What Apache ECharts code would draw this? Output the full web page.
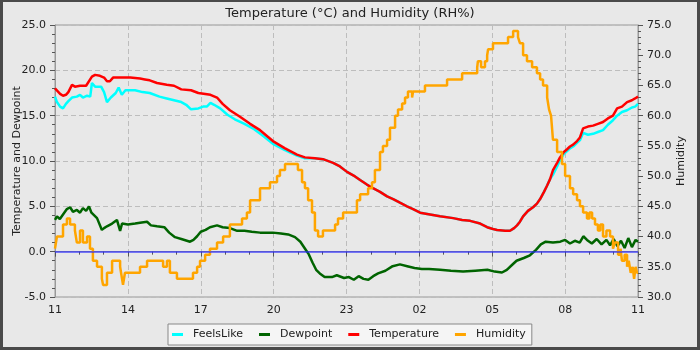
<!DOCTYPE html>
<html>
<head>
<meta charset="utf-8">
<script src="https://cdn.jsdelivr.net/npm/echarts@6/dist/echarts.min.js"></script>
<style>
  html, body { margin: 0; padding: 0; background: #4a4a4a; }
  #frame { width: 700px; height: 350px; box-sizing: border-box; border: 3px solid #4a4a4a; border-top-width: 2px; background: #e8e8e8; }
  #chart { width: 100%; height: 100%; }
</style>
</head>
<body>
<div id="frame"><div id="chart"></div></div>
<script>
// Readings over 24 hours starting at 11:00; time is in hours since 11:00.
const START_HOUR = 11;
const hourTicks = ['11', '14', '17', '20', '23', '02', '05', '08', '11'];

// [hours, °C]
const temperature = [
  [0, 18.0], [0.08, 17.8], [0.21, 17.4], [0.33, 17.2], [0.45, 17.3], [0.55, 17.6], [0.7, 18.4], [0.82, 18.2],
  [1.03, 18.3], [1.28, 18.3], [1.36, 18.5], [1.52, 19.3], [1.65, 19.5], [1.85, 19.4], [2.02, 19.2], [2.14, 18.8],
  [2.26, 18.8], [2.39, 19.2], [2.7, 19.2], [3.1, 19.2], [3.5, 19.1], [3.7, 19.0], [3.9, 18.9], [4.2, 18.6],
  [4.6, 18.4], [4.9, 18.3], [5.2, 17.9], [5.6, 17.8], [5.9, 17.5], [6.4, 17.3], [6.67, 17.0], [6.9, 16.3],
  [7.2, 15.6], [7.6, 14.9], [8.03, 14.1], [8.44, 13.4], [8.97, 12.2], [9.47, 11.4], [9.96, 10.7], [10.29, 10.4],
  [10.7, 10.3], [11.03, 10.2], [11.45, 9.8], [11.73, 9.4], [12.02, 8.8], [12.35, 8.3], [12.56, 7.9], [12.84, 7.4],
  [13.09, 7.0], [13.38, 6.6], [13.67, 6.1], [13.92, 5.8], [14.2, 5.4], [14.49, 5.0], [14.74, 4.7], [15.03, 4.3],
  [15.44, 4.1], [15.85, 3.9], [16.39, 3.7], [16.76, 3.5], [17.09, 3.4], [17.5, 3.1], [17.79, 2.7], [18.03, 2.5],
  [18.2, 2.4], [18.53, 2.3], [18.73, 2.3], [18.9, 2.6], [19.02, 2.9], [19.14, 3.3], [19.27, 3.9], [19.47, 4.5],
  [19.68, 4.9], [19.84, 5.3], [19.97, 5.8], [20.13, 6.6], [20.26, 7.3], [20.38, 8.0], [20.5, 9.0], [20.67, 9.8],
  [20.79, 10.4], [20.95, 11.0], [21.08, 11.3], [21.2, 11.6], [21.33, 11.8], [21.49, 12.2], [21.61, 12.6], [21.74, 13.6],
  [21.94, 13.8], [22.15, 13.9], [22.35, 14.1], [22.56, 14.3], [22.76, 14.7], [22.97, 15.0], [23.14, 15.8], [23.34, 16.0],
  [23.55, 16.5], [23.75, 16.7], [23.88, 16.9], [24, 17.1]
];

// [hours, °C]
const feelsLike = [
  [0, 17.1], [0.08, 16.5], [0.21, 16.0], [0.33, 15.8], [0.45, 16.3], [0.55, 16.6], [0.7, 17.0], [0.9, 17.1],
  [1.03, 17.3], [1.15, 17.0], [1.32, 17.2], [1.45, 17.1], [1.52, 18.6], [1.65, 18.2], [1.9, 18.2], [2.02, 17.6],
  [2.14, 16.5], [2.3, 17.0], [2.5, 17.5], [2.62, 18.1], [2.75, 17.3], [2.9, 17.8], [3.3, 17.8], [3.6, 17.6],
  [3.9, 17.5], [4.3, 17.1], [4.6, 16.9], [4.9, 16.7], [5.2, 16.5], [5.4, 16.2], [5.6, 15.7], [5.9, 15.8],
  [6.1, 16.0], [6.25, 16.0], [6.4, 16.4], [6.55, 16.2], [6.8, 15.8], [7.1, 15.1], [7.4, 14.6], [7.8, 14.1],
  [8.2, 13.5], [8.6, 12.7], [8.97, 11.9], [9.47, 11.2], [9.96, 10.6], [10.29, 10.3],
  [10.7, 10.3], [11.03, 10.2], [11.45, 9.8], [11.73, 9.4], [12.02, 8.8], [12.35, 8.3], [12.56, 7.9], [12.84, 7.4],
  [13.09, 7.0], [13.38, 6.6], [13.67, 6.1], [13.92, 5.8], [14.2, 5.4], [14.49, 5.0], [14.74, 4.7], [15.03, 4.3],
  [15.44, 4.1], [15.85, 3.9], [16.39, 3.7], [16.76, 3.5], [17.09, 3.4], [17.5, 3.1], [17.79, 2.7], [18.03, 2.5],
  [18.2, 2.4], [18.53, 2.3], [18.73, 2.3], [18.9, 2.6], [19.02, 2.9], [19.14, 3.3], [19.27, 3.9], [19.47, 4.5],
  [19.68, 4.9], [19.84, 5.3], [19.97, 5.8], [20.13, 6.6], [20.26, 7.3], [20.38, 8.0], [20.5, 8.5], [20.67, 9.4],
  [20.79, 10.1], [20.95, 10.8], [21.08, 11.1], [21.2, 11.4], [21.33, 11.6], [21.49, 12.0], [21.61, 12.3], [21.74, 13.1],
  [21.94, 12.9], [22.15, 13.0], [22.35, 13.2], [22.56, 13.4], [22.76, 14.0], [22.97, 14.5], [23.14, 15.0], [23.34, 15.4],
  [23.55, 15.6], [23.75, 15.9], [23.88, 16.0], [24, 16.3]
];

// [hours, °C]
const dewpoint = [
  [0, 3.5], [0.08, 3.9], [0.2, 3.6], [0.33, 4.1], [0.49, 4.7], [0.62, 4.9], [0.74, 4.4], [0.9, 4.6],
  [1.03, 4.3], [1.15, 4.8], [1.28, 4.5], [1.4, 5.0], [1.5, 4.3], [1.73, 3.7], [1.93, 2.4], [2.02, 2.6],
  [2.14, 2.8], [2.35, 3.1], [2.55, 3.5], [2.68, 2.3], [2.76, 3.1], [3.0, 3.0], [3.3, 3.1], [3.5, 3.2],
  [3.79, 3.3], [3.95, 2.9], [4.2, 2.8], [4.5, 2.7], [4.7, 2.1], [4.94, 1.6], [5.2, 1.4], [5.56, 1.1],
  [5.7, 1.3], [5.85, 1.7], [6.0, 2.2], [6.2, 2.4], [6.38, 2.7], [6.67, 2.9], [6.9, 2.7], [7.2, 2.6],
  [7.5, 2.3], [7.8, 2.3], [8.1, 2.2], [8.44, 2.1], [8.97, 2.1], [9.3, 2.0], [9.6, 1.9], [9.88, 1.6],
  [10.1, 1.1], [10.3, 0.3], [10.45, -0.3], [10.6, -1.2], [10.75, -2.0], [10.9, -2.4], [11.1, -2.8], [11.4, -2.8],
  [11.6, -2.6], [11.9, -2.9], [12.1, -2.8], [12.3, -3.1], [12.5, -2.7], [12.7, -3.0], [12.9, -3.1], [13.1, -2.7],
  [13.3, -2.4], [13.6, -2.1], [13.9, -1.6], [14.2, -1.4], [14.5, -1.6], [14.8, -1.8], [15.1, -1.9], [15.4, -1.9],
  [15.85, -2.0], [16.3, -2.1], [16.8, -2.2], [17.3, -2.1], [17.8, -2.0], [18.1, -2.2], [18.4, -2.3], [18.6, -2.0],
  [18.8, -1.5], [19.0, -1.0], [19.3, -0.7], [19.55, -0.4], [19.8, 0.2], [20.0, 0.8], [20.2, 1.1], [20.5, 1.0],
  [20.8, 1.1], [21.0, 1.3], [21.2, 0.9], [21.4, 1.2], [21.6, 1.0], [21.75, 1.7], [21.9, 1.3], [22.1, 0.9],
  [22.3, 1.4], [22.5, 0.8], [22.7, 1.3], [22.85, 0.7], [23.0, 1.4], [23.15, 0.6], [23.3, 1.2], [23.45, 0.4],
  [23.6, 1.5], [23.75, 0.5], [23.9, 1.3], [24, 1.1]
];

// [hours, %RH] — each reading holds until the next one
const humidity = [
  [0, 38], [0.08, 40], [0.33, 42], [0.49, 43], [0.62, 42], [0.82, 41], [0.9, 39], [1.03, 41],
  [1.15, 39], [1.32, 40], [1.44, 38], [1.56, 36], [1.73, 35], [1.93, 33], [1.98, 32], [2.14, 34],
  [2.35, 36], [2.68, 35], [2.76, 33], [2.8, 32], [2.88, 34], [3.5, 35], [3.79, 36], [4.45, 35],
  [4.61, 36], [4.73, 34], [5.02, 33], [5.68, 34], [5.85, 35], [5.97, 36], [6.18, 37], [6.38, 38],
  [6.67, 39], [6.92, 40], [7.2, 42], [7.7, 43], [7.9, 44], [8.03, 46], [8.44, 48], [8.85, 49],
  [9.14, 50], [9.26, 51], [9.47, 52], [10.0, 51], [10.17, 49], [10.29, 48], [10.42, 46], [10.58, 44],
  [10.7, 41], [10.83, 40], [11.03, 41], [11.53, 42], [11.65, 43], [11.86, 44], [12.43, 46], [12.56, 47],
  [12.89, 48], [13.05, 49], [13.17, 51], [13.38, 54], [13.5, 55], [13.67, 56], [13.79, 58], [14.0, 60],
  [14.12, 61], [14.29, 62], [14.41, 63], [14.53, 64], [14.7, 63], [14.74, 64], [15.23, 65], [16.14, 66],
  [16.76, 67], [17.38, 68], [17.41, 69], [17.54, 68], [17.7, 69], [17.79, 70], [17.83, 71], [18.03, 72],
  [18.65, 73], [18.86, 74], [19.06, 73], [19.14, 72], [19.27, 70], [19.43, 69], [19.64, 68], [19.84, 67],
  [19.97, 66], [20.09, 65], [20.26, 63], [20.34, 61], [20.42, 60], [20.5, 56], [20.67, 54], [20.87, 52],
  [21.0, 50], [21.2, 48], [21.33, 47], [21.49, 46], [21.61, 45], [21.74, 44], [21.9, 43], [22.0, 44],
  [22.11, 43], [22.23, 42], [22.35, 41], [22.45, 42], [22.56, 40], [22.7, 41], [22.85, 40], [22.97, 38],
  [23.05, 39], [23.18, 37], [23.28, 38], [23.34, 36], [23.45, 37], [23.55, 35], [23.62, 36], [23.7, 34],
  [23.78, 35], [23.84, 33], [23.9, 35], [23.96, 34], [24, 34]
];

const FONT = 'DejaVu Sans';
const TEXT = '#222';
const AXIS = '#999';
const TICK = '#555';

const pad2 = n => (n < 10 ? '0' : '') + n;

const chart = echarts.init(document.getElementById('chart'), null, { renderer: 'canvas' });

chart.setOption({
  animation: false,
  backgroundColor: '#e8e8e8',
  textStyle: { fontFamily: FONT, color: TEXT },
  title: {
    text: 'Temperature (°C) and Humidity (RH%)',
    left: 'center',
    top: 0,
    textStyle: { fontFamily: FONT, fontSize: 13, fontWeight: 'normal', color: TEXT }
  },
  legend: {
    data: ['FeelsLike', 'Dewpoint', 'Temperature', 'Humidity'],
    left: 165,
    top: 322,
    padding: [5, 6, 5, 4],
    itemGap: 16,
    itemWidth: 11,
    itemHeight: 3,
    icon: 'rect',
    backgroundColor: '#f5f5f5',
    borderColor: '#888',
    borderWidth: 1,
    textStyle: { fontFamily: FONT, fontSize: 11, color: TEXT, padding: [0, 0, 0, 5] }
  },
  grid: {
    left: 52, right: 59, top: 23, bottom: 50,
    outerBoundsMode: 'none',
    containLabel: false,
    show: true, borderColor: AXIS, borderWidth: 1, backgroundColor: '#e8e8e8'
  },
  xAxis: {
    type: 'value',
    min: 0, max: 24, interval: 3,
    axisLine: { lineStyle: { color: AXIS } },
    axisTick: { length: 5, lineStyle: { color: TICK } },
    minorTick: { show: true, splitNumber: 3, length: 3, lineStyle: { color: TICK } },
    axisLabel: {
      margin: 8, fontFamily: FONT, fontSize: 11, color: TEXT,
      formatter: v => hourTicks[Math.round(v / 3)] || pad2((START_HOUR + v) % 24)
    },
    splitLine: { show: true, lineStyle: { color: '#bdbdbd', type: [5, 3] } }
  },
  yAxis: [
    {
      type: 'value', min: -5, max: 25, interval: 5,
      name: 'Temperature and Dewpoint', nameLocation: 'middle', nameGap: 32, nameMoveOverlap: false,
      nameTextStyle: { fontFamily: FONT, fontSize: 11, color: TEXT },
      axisLine: { show: true, lineStyle: { color: AXIS } },
      axisTick: { show: true, length: 5, lineStyle: { color: TICK } },
      minorTick: { show: true, splitNumber: 5, length: 3, lineStyle: { color: TICK } },
      axisLabel: { margin: 9, fontFamily: FONT, fontSize: 11, color: TEXT, formatter: v => v.toFixed(1) },
      splitLine: { show: true, lineStyle: { color: '#bdbdbd', type: [5, 3] } }
    },
    {
      type: 'value', min: 30, max: 75, interval: 5,
      name: 'Humidity', nameLocation: 'middle', nameGap: 38, nameMoveOverlap: false,
      nameTextStyle: { fontFamily: FONT, fontSize: 11, color: TEXT },
      axisLine: { show: true, lineStyle: { color: AXIS } },
      axisTick: { show: true, length: 5, lineStyle: { color: TICK } },
      minorTick: { show: true, splitNumber: 5, length: 3, lineStyle: { color: TICK } },
      axisLabel: { margin: 9, fontFamily: FONT, fontSize: 11, color: TEXT, formatter: v => v.toFixed(1) },
      splitLine: { show: false }
    }
  ],
  series: [
    {
      name: 'FeelsLike', type: 'line', yAxisIndex: 0, data: feelsLike,
      showSymbol: false, color: '#00ffff', lineStyle: { width: 2.5, color: '#00ffff' }
    },
    {
      name: 'Dewpoint', type: 'line', yAxisIndex: 0, data: dewpoint,
      showSymbol: false, color: '#006400', lineStyle: { width: 2.5, color: '#006400' }
    },
    {
      name: 'Temperature', type: 'line', yAxisIndex: 0, data: temperature,
      showSymbol: false, color: '#ff0000', lineStyle: { width: 2.5, color: '#ff0000' }
    },
    {
      name: 'Humidity', type: 'line', yAxisIndex: 1, data: humidity, step: 'end',
      showSymbol: false, color: '#ffa500', lineStyle: { width: 2.5, color: '#ffa500' }
    },
    {
      // freezing-point reference line
      name: 'zero', type: 'line', yAxisIndex: 0, data: [], z: 5,
      markLine: {
        silent: true, symbol: 'none', label: { show: false },
        lineStyle: { color: 'rgba(40,40,255,0.6)', width: 2, type: 'solid' },
        data: [{ yAxis: 0 }]
      }
    }
  ]
});
</script>
</body>
</html>
